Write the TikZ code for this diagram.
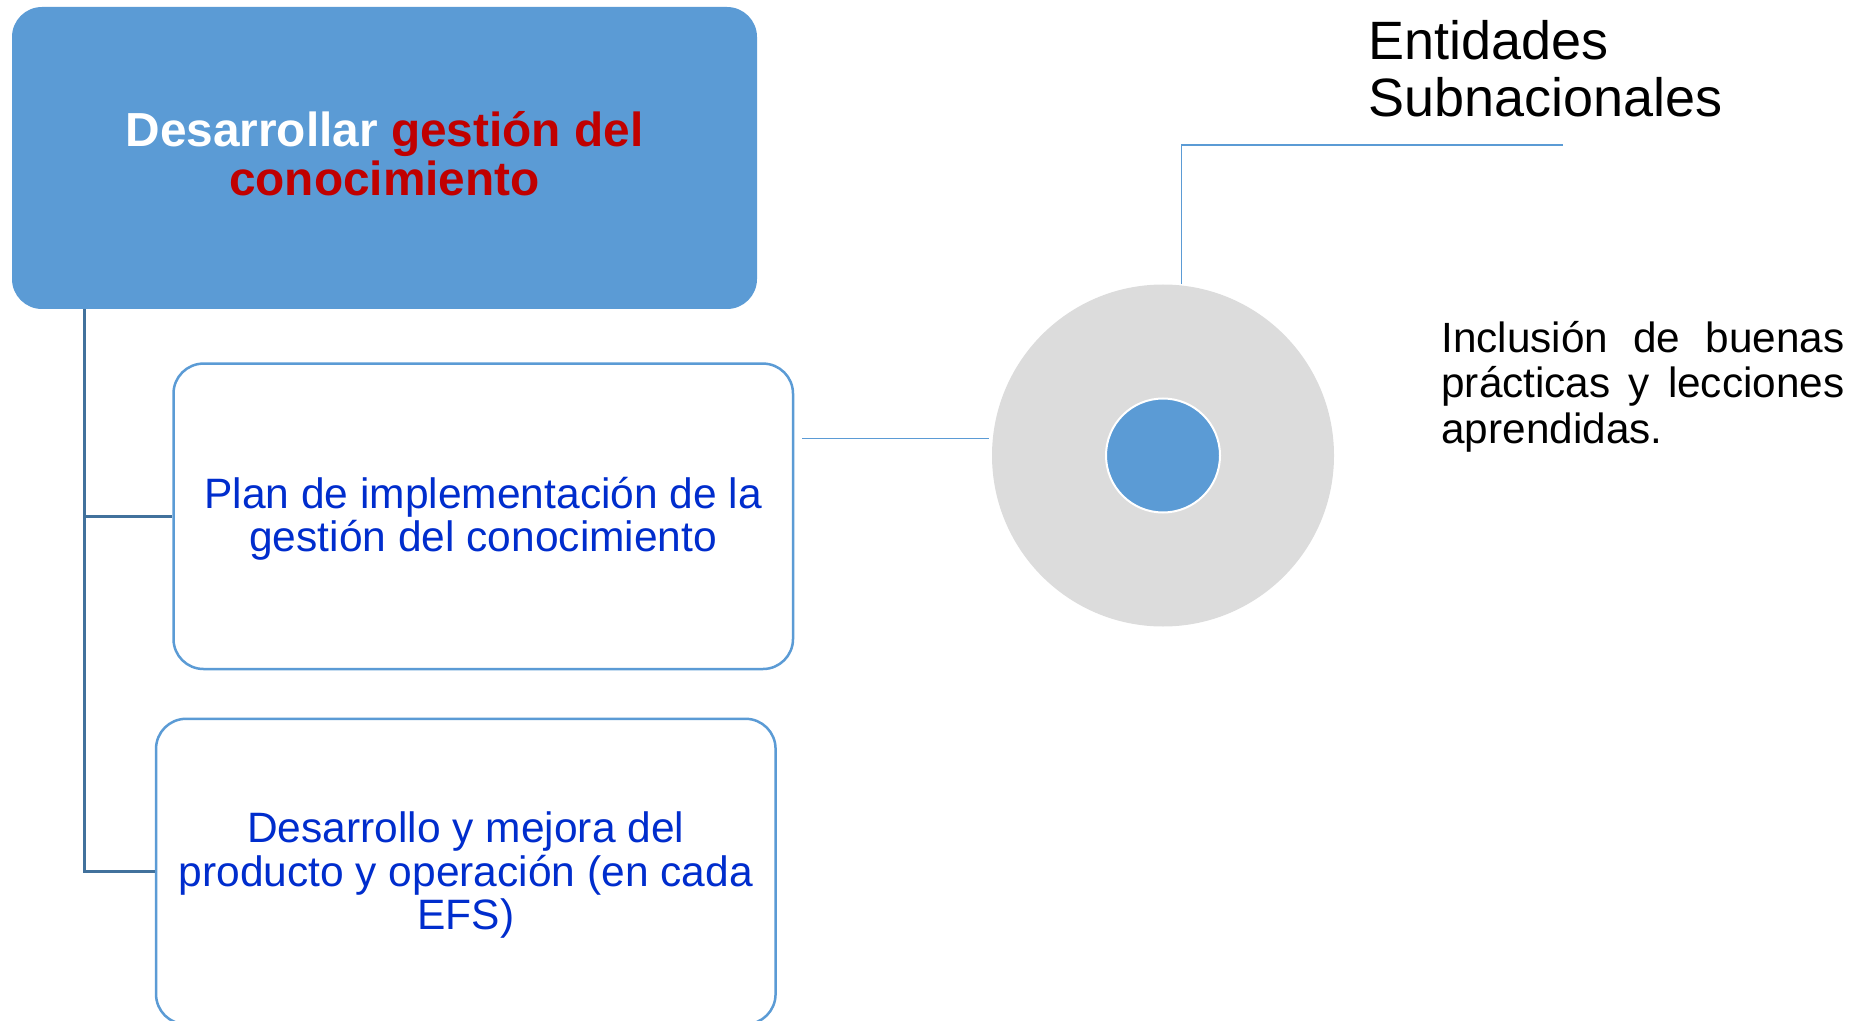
\documentclass[tikz,border=0pt]{standalone}
\usepackage{fontspec}
\setmainfont{Liberation Sans}
\definecolor{mainblue}{RGB}{91,155,213}
\definecolor{treeblue}{RGB}{65,113,156}
\definecolor{txtblue}{RGB}{0,45,205}
\definecolor{titlered}{RGB}{192,0,0}
\definecolor{ringgray}{RGB}{220,220,220}
\begin{document}
\begin{tikzpicture}[x=0.5pt,y=-0.5pt,
  mainbox/.style={rectangle, rounded corners=15pt, fill=mainblue, minimum width=372.5pt, minimum height=151pt, inner sep=0pt},
  subbox/.style={rectangle, rounded corners=15pt, draw=mainblue, line width=1.25pt, fill=white, minimum width=309.75pt, minimum height=152.7pt, inner sep=0pt},
  boxtext/.style={text=txtblue, font=\fontsize{21.25}{21.85}\selectfont, align=center, inner sep=0pt},
  tree/.style={draw=treeblue, line width=1.2pt},
  link/.style={draw=mainblue, line width=0.7pt},
]
\useasboundingbox (0,0) rectangle (1851,1021);
\clip (0,0) rectangle (1851,1021);
\node[mainbox] (main) at (384.5,158) {};
\node[font=\fontsize{23.9}{24.8}\selectfont\bfseries, align=center, inner sep=0pt] (title) at ([yshift=2.2pt]main.center)
  {\textcolor{white}{Desarrollar} \textcolor{titlered}{gestión del}\\\textcolor{titlered}{conocimiento}};
\node[subbox] (plan) at (483.25,516.3) {};
\node[boxtext] (plantxt) at ([yshift=-1.2pt]plan.center) {Plan de implementación de la\\gestión del conocimiento};
\node[subbox] (prod) at (465.8,871.5) {};
\node[boxtext] (prodtxt) at ([yshift=-1.8pt]prod.center) {Desarrollo y mejora del\\producto y operación (en cada\\EFS)};
\draw[tree] ([xshift=36.5pt]main.south west) |- (plan.west);
\draw[tree] ([xshift=36.5pt]main.south west) |- (prod.west);
\node[circle, fill=ringgray, minimum size=171pt, inner sep=0pt] (ring) at (1163,455.5) {};
\node[circle, fill=mainblue, draw=white, line width=1pt, minimum size=57pt, inner sep=0pt] (core) at (ring.center) {};
\draw[link] ([xshift=4pt,yshift=39pt]plan.east) -- ([xshift=-1.5pt,yshift=39pt]plan.east -| ring.west);
\coordinate (tip) at (1563,145);
\draw[link] ([xshift=9.35pt]ring.north) |- (tip);
\node[anchor=west, inner sep=0pt, align=left, font=\fontsize{27}{28.4}\selectfont] (ent) at (1368,68.5) {Entidades\\Subnacionales};
\node[anchor=west, inner sep=0pt, text width=201.5pt, align=justify, font=\fontsize{21.15}{22.75}\selectfont] (incl) at (1441,386.5)
  {Inclusión de buenas\linebreak prácticas y lecciones\linebreak aprendidas.};
\end{tikzpicture}
\end{document}
